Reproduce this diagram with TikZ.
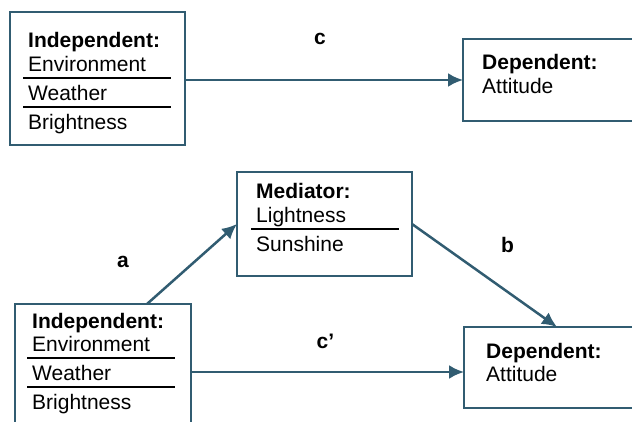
\documentclass[tikz,border=0pt]{standalone}
\usepackage{fontspec}
\setmainfont{Liberation Sans}
\usepackage{array}
\usepackage{tikz}
\usetikzlibrary{arrows.meta,positioning}
\definecolor{boxblue}{RGB}{49,92,113}
\setlength{\tabcolsep}{5pt}
\setlength{\arrayrulewidth}{2.6pt}
\setlength{\extrarowheight}{11.5pt}
\renewcommand{\arraystretch}{0.65}

\begin{document}
\begin{tikzpicture}[
    x=1pt, y=-1pt,
    font=\fontsize{21}{25.2}\selectfont,
    var/.style={
		rectangle,
		draw=boxblue,
		line width=2.5pt,
		fill=white,
		inner sep=0pt,
		outer sep=0pt
	},
	vartext/.style={
		anchor=base west,
		inner sep=0pt
	},
	conn/.style={
		draw=boxblue,
		line width=2.5pt,
		-{Latex[length=15pt,width=14pt]}
	},
	lbl/.style={
		anchor=base,
		font=\fontsize{21}{25.2}\selectfont\bfseries
	}
  ]
  \clip (0,0) rectangle (632,422);
    % We start by placing the boxes
  \node [var, minimum width=175pt, minimum height=133pt] (indA) at (97.5,78.5) {};
  \node [var, minimum width=187pt, minimum height=82pt] (depA) at (556.5,80) {};
  \node [var, minimum width=175pt, minimum height=104pt] (med) at (324.5,224) {};
  \node [var, minimum width=176pt, minimum height=136pt] (indB) at (103,372) {};
  \node [var, minimum width=186pt, minimum height=81pt] (depB) at (557,367.5) {};

    % then the texts inside them
  \node [vartext] (indA-text) at (23,48)
 {%
 \begin{tabular}[t]{p{138pt}}
  \textbf{Independent:}\\
  Environment\\ \hline\noalign{\vskip 2.5pt}
  Weather\\ \hline\noalign{\vskip 2pt}
  Brightness
 \end{tabular}
 };

  \node [vartext] (depA-text) at (477,70)
 {%
 \begin{tabular}[t]{l}
  \textbf{Dependent:}\\
  Attitude
 \end{tabular}
 };

  \node [vartext] (med-text) at (251,199)
 {%
 \begin{tabular}[t]{p{138pt}}
  \textbf{Mediator:}\\
  Lightness\\ \hline\noalign{\vskip 2.5pt}
  Sunshine
 \end{tabular}
 };

  \node [vartext] (indB-text) at (27,328)
 {%
 \begin{tabular}[t]{p{138pt}}
  \textbf{Independent:}\\
  Environment\\ \hline\noalign{\vskip 2.5pt}
  Weather\\ \hline\noalign{\vskip 2pt}
  Brightness
 \end{tabular}
 };

  \node [vartext] (depB-text) at (481,358)
 {%
 \begin{tabular}[t]{l}
  \textbf{Dependent:}\\
  Attitude
 \end{tabular}
 };

 \draw [conn] (indA.east |- depA.west) -- node [lbl, xshift=-4pt, yshift=35pt] (labC) {c} (depA.west);
 \draw [conn] ([xshift=44pt]indB.north) -- node [lbl, xshift=-69pt, yshift=-4pt] (labA) {a} (med.west);
 \draw [conn] (med.east) -- node [lbl, xshift=23pt, yshift=23.5pt] (labB) {b} (depB.north);
 \draw [conn] (indB.east) -- node [lbl, xshift=-2pt, yshift=24pt] (labCp) {c’} (indB.east -| depB.west);

\end{tikzpicture}
\end{document}
